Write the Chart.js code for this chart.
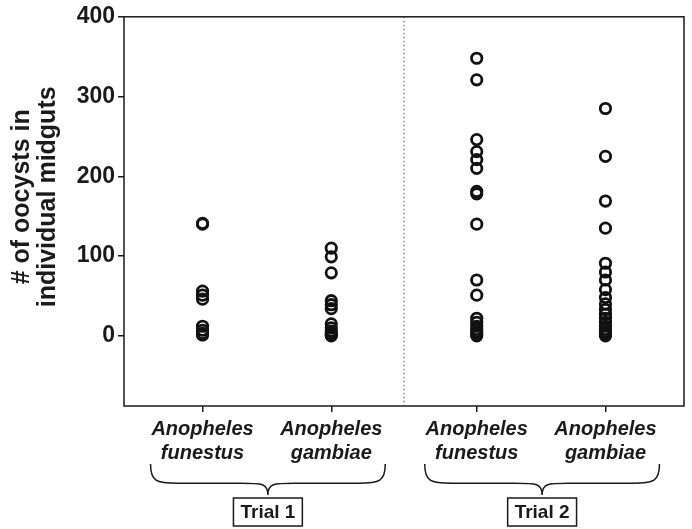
<!DOCTYPE html>
<html>
<head>
<meta charset="utf-8">
<script src="https://cdn.jsdelivr.net/npm/chart.js@4.4.0/dist/chart.umd.min.js"></script>
<style>
html,body{margin:0;padding:0;background:#fff;}
#wrap{width:692px;height:529px;}
</style>
</head>
<body>
<div id="wrap"><canvas id="c" width="692" height="529"></canvas></div>
<script>
// ---- data ----
const categories = [['Anopheles','funestus'],['Anopheles','gambiae'],['Anopheles','funestus'],['Anopheles','gambiae']];
const groupX = [1, 2, 3.13, 4.13];
const trials = ['Trial 1','Trial 2'];
const yTitle = ['# of oocysts in', 'individual midguts'];
const yTicks = [0, 100, 200, 300, 400];
const funestusTrial1 = [141, 140, 56, 51, 46, 12, 7, 3, 1];
const gambiaeTrial1 = [110, 99, 79, 44, 39, 34, 15, 10, 6, 3, 1, 0];
const funestusTrial2 = [348, 321, 246, 231, 221, 210, 181, 178, 140, 70, 51, 22, 17, 12, 8, 5, 2, 0];
const gambiaeTrial2 = [285, 225, 169, 135, 91, 80, 70, 58, 48, 40, 33, 27, 22, 17, 12, 8, 5, 2, 0];
const columns = [funestusTrial1, gambiaeTrial1, funestusTrial2, gambiaeTrial2];

const FONT = '"Liberation Sans", Arial, Helvetica, sans-serif';
const INK = '#1a1a1a';

const datasets = columns.map((vals, i) => ({
  label: categories[i].join(' '),
  data: vals.map(v => ({x: groupX[i], y: v})),
  pointStyle: 'circle',
  pointRadius: 5.2,
  pointHoverRadius: 5.2,
  borderColor: '#111',
  backgroundColor: 'rgba(255,255,255,0)',
  pointBorderWidth: 2.8,
  showLine: false
}));

function drawBrace(ctx, x1, x2, y0, h) {
  const xm = (x1 + x2) / 2;
  const ym = y0 + h * 0.62;
  const r = h * 0.62;
  ctx.beginPath();
  ctx.moveTo(x1, y0);
  ctx.bezierCurveTo(x1, y0 + r * 0.9, x1 + r * 0.3, ym, x1 + r * 1.4, ym);
  ctx.lineTo(xm - r * 1.4, ym);
  ctx.bezierCurveTo(xm - r * 0.3, ym, xm, ym, xm, y0 + h);
  ctx.bezierCurveTo(xm, ym, xm + r * 0.3, ym, xm + r * 1.4, ym);
  ctx.lineTo(x2 - r * 1.4, ym);
  ctx.bezierCurveTo(x2 - r * 0.3, ym, x2, y0 + r * 0.9, x2, y0);
  ctx.stroke();
}

const decor = {
  id: 'decor',
  afterDraw(chart) {
    const {ctx, chartArea: a, scales: {x}} = chart;
    ctx.save();
    // frame
    ctx.strokeStyle = INK;
    ctx.lineWidth = 1.5;
    ctx.strokeRect(a.left, a.top, a.right - a.left, a.bottom - a.top);
    // dotted divider
    const dx = x.getPixelForValue((groupX[1] + groupX[2]) / 2);
    ctx.strokeStyle = '#444';
    ctx.lineWidth = 1;
    ctx.setLineDash([1.5, 2.5]);
    ctx.beginPath();
    ctx.moveTo(dx, a.top);
    ctx.lineTo(dx, a.bottom);
    ctx.stroke();
    ctx.setLineDash([]);
    // y axis title
    ctx.fillStyle = INK;
    ctx.font = 'bold 25px ' + FONT;
    ctx.textAlign = 'center';
    ctx.textBaseline = 'middle';
    ctx.save();
    ctx.translate(0, a.top + 180);
    ctx.rotate(-Math.PI / 2);
    ctx.fillText(yTitle[0], 0, 22);
    ctx.fillText(yTitle[1], 0, 48);
    ctx.restore();
    // braces and trial boxes
    ctx.strokeStyle = INK;
    ctx.lineWidth = 1.5;
    trials.forEach((t, i) => {
      const xa = x.getPixelForValue(groupX[2 * i]) - 52;
      const xb = x.getPixelForValue(groupX[2 * i + 1]) + 54;
      drawBrace(ctx, xa, xb, a.bottom + 58, 31);
      const cx = (xa + xb) / 2;
      ctx.font = 'bold 19px ' + FONT;
      const w = ctx.measureText(t).width + 14;
      ctx.lineWidth = 1.5;
      ctx.strokeRect(cx - w / 2, a.bottom + 92, w, 28);
      ctx.fillStyle = INK;
      ctx.textAlign = 'center';
      ctx.textBaseline = 'middle';
      ctx.fillText(t, cx, a.bottom + 106.5);
    });
    ctx.restore();
  }
};

new Chart(document.getElementById('c'), {
  type: 'scatter',
  data: {datasets},
  options: {
    responsive: false,
    animation: false,
    layout: {padding: {top: 15, right: 7, left: 0, bottom: 0}},
    plugins: {legend: {display: false}, tooltip: {enabled: false}},
    scales: {
      x: {
        type: 'linear',
        min: 0.39,
        max: 4.74,
        afterBuildTicks: s => { s.ticks = groupX.map(v => ({value: v})); },
        afterFit: s => { s.height = 123; },
        ticks: {
          autoSkip: false,
          maxRotation: 0,
          padding: 5,
          color: INK,
          font: {family: FONT, size: 20, style: 'italic', weight: 'bold', lineHeight: 1.2},
          callback: (v, i) => categories[i]
        },
        grid: {drawOnChartArea: false, drawTicks: true, tickLength: 6, color: INK, lineWidth: 1.5},
        border: {display: false}
      },
      y: {
        min: -88,
        max: 400,
        afterBuildTicks: s => { s.ticks = yTicks.map(v => ({value: v})); },
        afterFit: s => { s.width = 124; },
        ticks: {
          padding: 3,
          color: INK,
          font: {family: FONT, size: 23, weight: 'bold'}
        },
        grid: {drawOnChartArea: false, drawTicks: true, tickLength: 6, color: INK, lineWidth: 1.5},
        border: {display: false},
        title: {display: false}
      }
    }
  },
  plugins: [decor]
});
</script>
</body>
</html>
